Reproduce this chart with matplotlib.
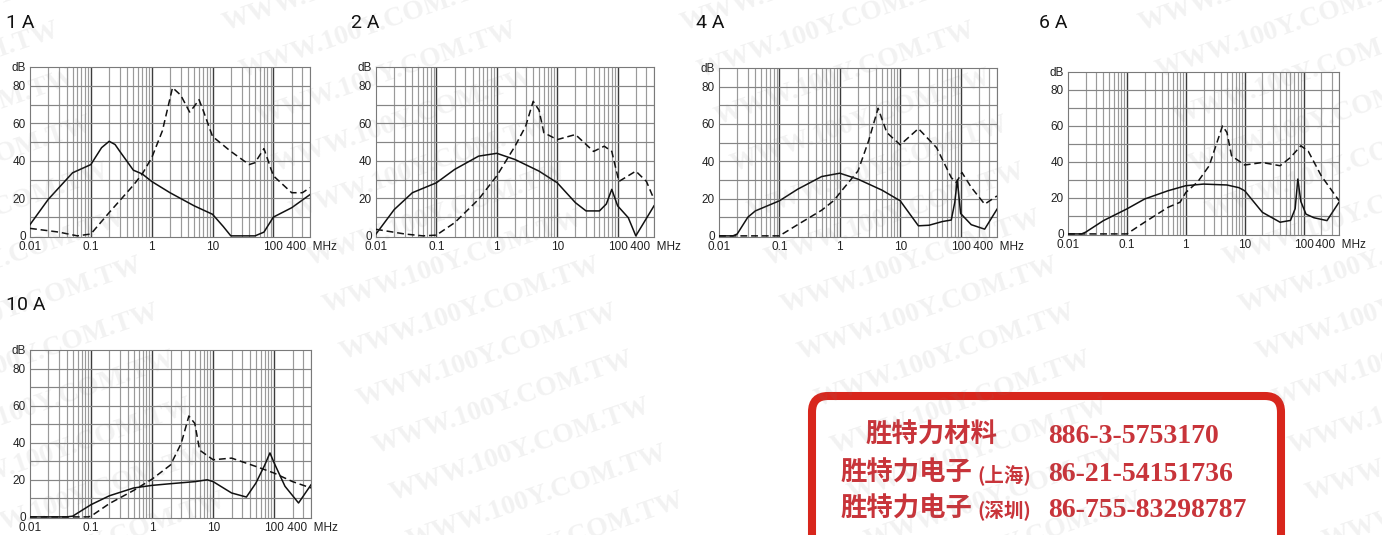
import matplotlib
matplotlib.use('Agg')
import matplotlib.pyplot as plt
from matplotlib.patches import FancyBboxPatch
from matplotlib.ticker import NullFormatter

W, H = 1382, 535

# insertion loss curves, frequency in MHz, attenuation in dB
titles = ['1 A', '2 A', '4 A', '6 A', '10 A']

f1_solid = [0.01, 0.02, 0.05, 0.1, 0.15, 0.2, 0.25, 0.3, 0.5, 0.7, 1, 2, 5, 10, 15, 20, 50, 70, 100, 200, 400]
v1_solid = [6, 19.5, 33.6, 38, 47, 50.4, 48.7, 45, 35, 33, 29, 23, 16, 11.5, 5, 0, 0, 2, 10, 15, 22]
f1_dash = [0.01, 0.03, 0.06, 0.1, 0.2, 0.5, 0.7, 1, 1.5, 2.2, 3, 4.2, 5, 6, 7, 10, 20, 40, 50, 70, 100, 200, 300, 400]
v1_dash = [4, 2, 0, 1, 12.4, 27, 33, 41.6, 56, 79, 75, 66, 69, 72.6, 67, 53, 45, 38, 39, 46.5, 32, 23, 23, 25.7]

f2_solid = [0.01, 0.02, 0.04, 0.1, 0.2, 0.5, 1, 2, 5, 10, 20, 30, 50, 65, 80, 100, 150, 200, 400]
v2_solid = [1, 14, 23, 28.3, 35.4, 42.5, 44, 40.7, 34.5, 28.3, 17.7, 13.3, 13.3, 17, 24.8, 16, 9.7, 0, 16]
f2_dash = [0.01, 0.03, 0.06, 0.1, 0.2, 0.5, 1, 2, 3, 4, 5, 6, 10, 20, 40, 60, 80, 105, 200, 300, 400]
v2_dash = [3.5, 1, 0, 0.4, 7, 19.5, 32, 47.8, 58.4, 71.7, 67, 55, 51.3, 54, 45, 47.8, 45, 29, 34.5, 29, 19.5]

f3_solid = [0.01, 0.017, 0.02, 0.03, 0.04, 0.1, 0.2, 0.5, 1, 2, 5, 10, 20, 30, 50, 70, 80, 88, 100, 150, 250, 400]
v3_solid = [0, 0, 1, 10, 13.4, 18.8, 25, 31.8, 33.6, 30.4, 24.5, 18.8, 5.4, 5.7, 7.7, 8.5, 18, 30, 12, 6, 3.6, 14.3]
f3_dash = [0.01, 0.1, 0.2, 0.5, 0.8, 1, 2, 3, 4.3, 6, 10, 20, 40, 70, 85, 105, 150, 250, 400]
v3_dash = [0, 0, 6, 13.75, 19, 23, 34.8, 51, 68.4, 55.4, 48.8, 57.5, 47.3, 31.25, 28.6, 34, 26, 17, 21.4]

f4_solid = [0.01, 0.017, 0.02, 0.04, 0.1, 0.2, 0.5, 1, 2, 5, 8, 10, 20, 40, 60, 72, 80, 90, 110, 150, 250, 400]
v4_solid = [0, 0, 1, 7.4, 13.9, 19.4, 24, 26.8, 27.7, 27.2, 25.7, 24, 12, 6.5, 7.5, 14, 30.5, 18, 11, 9, 7.4, 17.6]
f4_dash = [0.01, 0.1, 0.2, 0.5, 0.8, 1, 1.6, 2.5, 4.2, 5, 6, 10, 20, 40, 60, 90, 120, 200, 400]
v4_dash = [0, 0, 6.5, 14.8, 17.6, 23, 29, 37.9, 60, 56.4, 43.4, 38.3, 39.7, 37.9, 42.5, 49, 46, 32.3, 18.5]

f5_solid = [0.01, 0.04, 0.05, 0.1, 0.2, 0.5, 1, 2, 5, 8, 10, 20, 35, 50, 70, 85, 100, 150, 250, 400]
v5_solid = [0, 0, 0.4, 6.6, 11.4, 15.6, 17, 17.9, 19, 20, 19, 12.9, 10.7, 18.2, 28, 34.5, 29, 16.5, 7.5, 17.3]
f5_dash = [0.01, 0.09, 0.1, 0.2, 0.5, 1, 2, 3, 4, 5, 6, 10, 20, 50, 100, 200, 400]
v5_dash = [0, 0, 0.4, 7.2, 14.3, 20.4, 28, 39.7, 54.4, 50.4, 36, 30.8, 31.7, 27.2, 23.6, 19, 15.6]

series = [(f1_solid, v1_solid, f1_dash, v1_dash),
          (f2_solid, v2_solid, f2_dash, v2_dash),
          (f3_solid, v3_solid, f3_dash, v3_dash),
          (f4_solid, v4_solid, f4_dash, v4_dash),
          (f5_solid, v5_solid, f5_dash, v5_dash)]

x_ticks = [0.01, 0.1, 1, 10, 100, 400]
x_labels = ['0.01', '0.1', '1', '10', '100', ' 400  MHz']
y_ticks = [0, 20, 40, 60, 80, 90]
y_labels = ['0', '20', '40', '60', '80', 'dB']

company = ['胜特力材料', '胜特力电子', '胜特力电子']
branch = ['', '(上海)', '(深圳)']
phones = ['886-3-5753170', '86-21-54151736', '86-755-83298787']

# pixel boxes (left, top, right, bottom) and title anchors
boxes = [(30, 67, 310, 237), (376, 67, 654, 237), (719, 68, 997, 237),
         (1068, 72, 1339, 235), (30, 350, 311, 518)]
title_pos = [(6, 28), (351, 28), (696, 28), (1039, 28), (6, 310)]

fig = plt.figure(figsize=(W / 100, H / 100), dpi=100)
fig.patch.set_facecolor('white')

minor = [k * 10.0 ** e for e in range(-2, 3) for k in range(2, 10) if k * 10.0 ** e <= 400]

for i, (l, t, r, b) in enumerate(boxes):
    ax = fig.add_axes([l / W, 1 - b / H, (r - l) / W, (b - t) / H])
    ax.set_xscale('log')
    ax.set_xlim(0.01, 400)
    ax.set_ylim(-0.6, 90)
    for x in minor:
        ax.axvline(x, color='#9a9a9a', lw=0.85, zorder=1)
    for x in [0.1, 1, 10, 100]:
        ax.axvline(x, color='#3c3c3c', lw=1.0, zorder=1)
    for y in range(10, 90, 10):
        ax.axhline(y, color='#858585', lw=0.85, zorder=1)
    fs, vs, fd, vd = series[i]
    ax.plot(fs, vs, color='#111111', lw=1.1, zorder=3)
    ax.plot(fd, vd, color='#111111', lw=1.1, dashes=(4.5, 2.5), zorder=3)
    ax.set_xticks(x_ticks)
    ax.set_xticklabels(x_labels)
    ax.set_xticks([m for m in minor if m not in x_ticks], minor=True)
    ax.xaxis.set_minor_formatter(NullFormatter())
    ax.set_yticks(y_ticks)
    ax.set_yticklabels(y_labels)
    ax.tick_params(which='both', length=0, labelsize=8.5, labelcolor='#222222', pad=3)
    for lab in ax.get_xticklabels() + ax.get_yticklabels():
        lab.set_family('Liberation Sans')
    for sp in ax.spines.values():
        sp.set_color('#7a7a7a')
        sp.set_linewidth(0.8)
    tx, ty = title_pos[i]
    fig.text(tx / W, 1 - ty / H, titles[i], fontsize=14, va='baseline', ha='left',
             family='Roboto', color='#111111')

# overlay in pixel coordinates: contact box and watermark
ov = fig.add_axes([0, 0, 1, 1], zorder=10)
ov.set_xlim(0, W)
ov.set_ylim(H, 0)
ov.axis('off')
ov.patch.set_alpha(0)

red = '#d8261c'
txt_red = '#c8343a'
ov.add_patch(FancyBboxPatch((812, 396), 469, 200, boxstyle='round,pad=0,rounding_size=16',
                            ec=red, fc='white', lw=5.8, zorder=2))
rows_y = [443, 481, 517]
for j in range(3):
    x0 = 865 if j == 0 else 840
    ov.text(x0, rows_y[j], company[j], fontsize=19, color=txt_red, va='baseline',
            family=['Noto Sans CJK SC'], fontweight='bold', zorder=3)
    if branch[j]:
        ov.text(977, rows_y[j], branch[j], fontsize=14, color=txt_red, va='baseline',
                family=['Noto Sans CJK SC'], fontweight='bold', zorder=3)
    ov.text(1048, rows_y[j], phones[j], fontsize=20, color=txt_red, va='baseline',
            family='Liberation Serif', fontweight='bold', zorder=3)

for m in range(-2, 4):
    for k in range(-9, 8):
        x = 326 + 458 * m + 16.7 * k
        y = 313 + 47 * k
        if -400 < x < W + 20 and -40 < y < H + 140:
            ov.text(x, y, 'WWW.100Y.COM.TW', rotation=19, rotation_mode='anchor',
                    ha='left', va='baseline', fontsize=20, fontweight='bold',
                    family='Liberation Serif', color='#808080', alpha=0.1, zorder=20)

fig.savefig('out.png', dpi=100)
